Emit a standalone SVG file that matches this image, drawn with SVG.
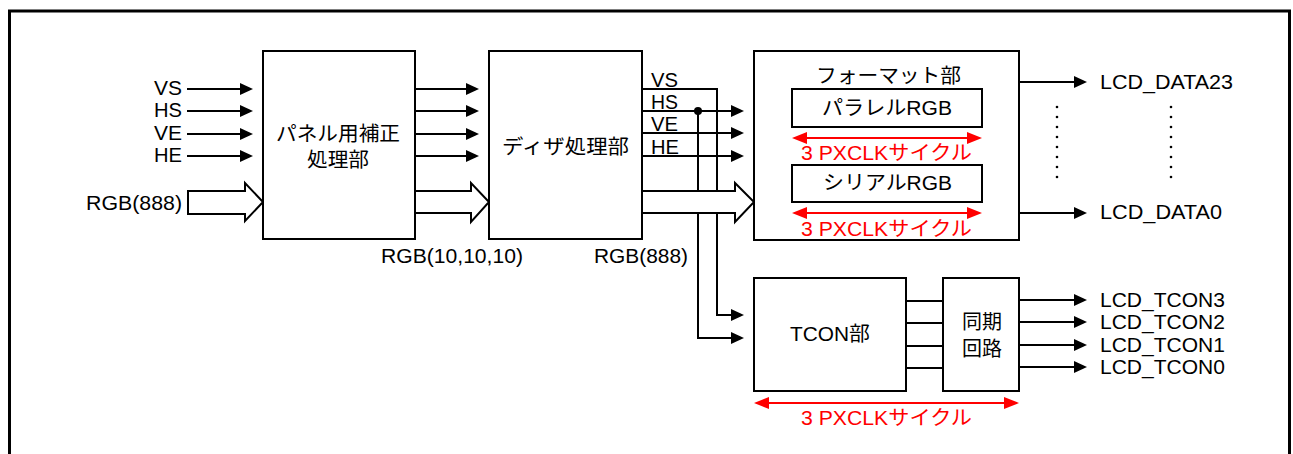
<svg xmlns="http://www.w3.org/2000/svg" width="1293" height="454" viewBox="0 0 1293 454">
<style>
text{font-family:"Liberation Sans","Noto Sans CJK JP",sans-serif;font-size:20px;fill:#000}
.red{fill:#ff0000}
.box{fill:#fff;stroke:#000;stroke-width:2}
.ln{fill:none;stroke:#000;stroke-width:2}
.arr{fill:none;stroke:#000;stroke-width:2;marker-end:url(#ah)}
.rarr{fill:none;stroke:#ff0000;stroke-width:2;marker-start:url(#rh);marker-end:url(#rh)}
.hollow{fill:#fff;stroke:#000;stroke-width:2;stroke-linejoin:miter}
</style>
<defs>
<marker id="ah" markerUnits="userSpaceOnUse" markerWidth="13" markerHeight="12" refX="10" refY="6" orient="auto" overflow="visible">
<path d="M0,0 L13,6 L0,12 z" fill="#000"/>
</marker>
<marker id="rh" markerUnits="userSpaceOnUse" markerWidth="15" markerHeight="12" refX="12" refY="6" orient="auto-start-reverse" overflow="visible">
<path d="M0,0 L15,6 L0,12 z" fill="#ff0000"/>
</marker>
</defs>
<rect x="0" y="0" width="1293" height="454" fill="#fff"/>
<rect x="9.5" y="11" width="1280" height="460" fill="none" stroke="#000" stroke-width="3"/>

<g id="connectors">
<line class="arr" x1="187" y1="89" x2="250" y2="89"/>
<line class="arr" x1="187" y1="111" x2="250" y2="111"/>
<line class="arr" x1="187" y1="134" x2="250" y2="134"/>
<line class="arr" x1="187" y1="156" x2="250" y2="156"/>
<polygon class="hollow" points="188,191 245,191 245,183 263,202 245,221 245,214 188,214"/>
<line class="arr" x1="415" y1="89" x2="476" y2="89"/>
<line class="arr" x1="415" y1="111" x2="476" y2="111"/>
<line class="arr" x1="415" y1="134" x2="476" y2="134"/>
<line class="arr" x1="415" y1="156" x2="476" y2="156"/>
<polyline class="hollow" points="416,191 471,191 471,183 489,202 471,222 471,213 416,213"/>
<polyline class="arr" points="642,89 717,89 717,315 741,315"/>
<line class="arr" x1="642" y1="111" x2="741" y2="111"/>
<polyline class="arr" points="698,111 698,338 741,338"/>
<circle cx="698" cy="111" r="4" fill="#000"/>
<line class="arr" x1="642" y1="133" x2="741" y2="133"/>
<line class="arr" x1="642" y1="156" x2="741" y2="156"/>
<polyline class="hollow" points="643,191 735,191 735,183 754,202 735,222 735,213 643,213"/>
<line class="arr" x1="1019" y1="82" x2="1084" y2="82"/>
<line class="arr" x1="1019" y1="213" x2="1084" y2="213"/>
<line class="ln" x1="906" y1="301" x2="943" y2="301"/>
<line class="ln" x1="906" y1="323" x2="943" y2="323"/>
<line class="ln" x1="906" y1="346" x2="943" y2="346"/>
<line class="ln" x1="906" y1="368" x2="943" y2="368"/>
<line class="arr" x1="1019" y1="300" x2="1084" y2="300"/>
<line class="arr" x1="1019" y1="322" x2="1084" y2="322"/>
<line class="arr" x1="1019" y1="345" x2="1084" y2="345"/>
<line class="arr" x1="1019" y1="367" x2="1084" y2="367"/>
<line class="rarr" x1="757" y1="403" x2="1016" y2="403"/>
</g>

<g id="input-labels">
<text x="154" y="95" textLength="28" lengthAdjust="spacingAndGlyphs">VS</text>
<text x="154" y="117" textLength="28" lengthAdjust="spacingAndGlyphs">HS</text>
<text x="154" y="140" textLength="28" lengthAdjust="spacingAndGlyphs">VE</text>
<text x="154" y="162" textLength="28" lengthAdjust="spacingAndGlyphs">HE</text>
<text x="86" y="210" textLength="96" lengthAdjust="spacingAndGlyphs">RGB(888)</text>
</g>

<g id="panel-correction">
<rect class="box" x="263" y="51" width="152" height="188"/>
<text x="276" y="141" textLength="124" lengthAdjust="spacingAndGlyphs">パネル用補正</text>
<text x="307" y="167" textLength="62" lengthAdjust="spacingAndGlyphs">処理部</text>
</g>
<text x="381" y="263" textLength="142" lengthAdjust="spacingAndGlyphs">RGB(10,10,10)</text>

<g id="dither">
<rect class="box" x="489" y="51" width="153" height="188"/>
<text x="502" y="154" textLength="127" lengthAdjust="spacingAndGlyphs">ディザ処理部</text>
</g>
<text x="594" y="263" textLength="94" lengthAdjust="spacingAndGlyphs">RGB(888)</text>

<g id="sync-labels">
<text x="651" y="87" textLength="27" lengthAdjust="spacingAndGlyphs">VS</text>
<text x="651" y="109" textLength="27" lengthAdjust="spacingAndGlyphs">HS</text>
<text x="651" y="131" textLength="27" lengthAdjust="spacingAndGlyphs">VE</text>
<text x="651" y="154" textLength="28" lengthAdjust="spacingAndGlyphs">HE</text>
</g>

<g id="format">
<rect class="box" x="754" y="51" width="265" height="189"/>
<text x="816" y="83" textLength="145" lengthAdjust="spacingAndGlyphs">フォーマット部</text>
<rect class="box" x="792" y="89" width="190" height="38"/>
<text x="822" y="115" textLength="130" lengthAdjust="spacingAndGlyphs">パラレルRGB</text>
<line class="rarr" x1="795" y1="138" x2="979" y2="138"/>
<text class="red" x="801" y="160" textLength="171" lengthAdjust="spacingAndGlyphs">3 PXCLKサイクル</text>
<rect class="box" x="792" y="165" width="190" height="37"/>
<text x="823" y="190" textLength="129" lengthAdjust="spacingAndGlyphs">シリアルRGB</text>
<line class="rarr" x1="795" y1="213" x2="979" y2="213"/>
<text class="red" x="801" y="236" textLength="171" lengthAdjust="spacingAndGlyphs">3 PXCLKサイクル</text>
</g>

<g id="data-outputs">
<text x="1100" y="89" textLength="133" lengthAdjust="spacingAndGlyphs">LCD_DATA23</text>
<text x="1100" y="219" textLength="122" lengthAdjust="spacingAndGlyphs">LCD_DATA0</text>
<g fill="#000">
<circle cx="1057" cy="107" r="1.3"/><circle cx="1057" cy="117" r="1.3"/><circle cx="1057" cy="127" r="1.3"/><circle cx="1057" cy="137" r="1.3"/><circle cx="1057" cy="147" r="1.3"/><circle cx="1057" cy="157" r="1.3"/><circle cx="1057" cy="167" r="1.3"/><circle cx="1057" cy="177" r="1.3"/>
<circle cx="1171" cy="107" r="1.3"/><circle cx="1171" cy="117" r="1.3"/><circle cx="1171" cy="127" r="1.3"/><circle cx="1171" cy="137" r="1.3"/><circle cx="1171" cy="147" r="1.3"/><circle cx="1171" cy="157" r="1.3"/><circle cx="1171" cy="167" r="1.3"/><circle cx="1171" cy="177" r="1.3"/>
</g>
</g>

<g id="tcon">
<rect class="box" x="754" y="278" width="152" height="113"/>
<text x="790" y="341" textLength="80" lengthAdjust="spacingAndGlyphs">TCON部</text>
</g>

<g id="sync-circuit">
<rect class="box" x="943" y="278" width="76" height="113"/>
<text x="962" y="329" textLength="40" lengthAdjust="spacingAndGlyphs">同期</text>
<text x="962" y="356" textLength="40" lengthAdjust="spacingAndGlyphs">回路</text>
</g>
<text class="red" x="801" y="425" textLength="171" lengthAdjust="spacingAndGlyphs">3 PXCLKサイクル</text>

<g id="tcon-outputs">
<text x="1100" y="307" textLength="125" lengthAdjust="spacingAndGlyphs">LCD_TCON3</text>
<text x="1100" y="329" textLength="125" lengthAdjust="spacingAndGlyphs">LCD_TCON2</text>
<text x="1100" y="352" textLength="125" lengthAdjust="spacingAndGlyphs">LCD_TCON1</text>
<text x="1100" y="374" textLength="125" lengthAdjust="spacingAndGlyphs">LCD_TCON0</text>
</g>
</svg>
